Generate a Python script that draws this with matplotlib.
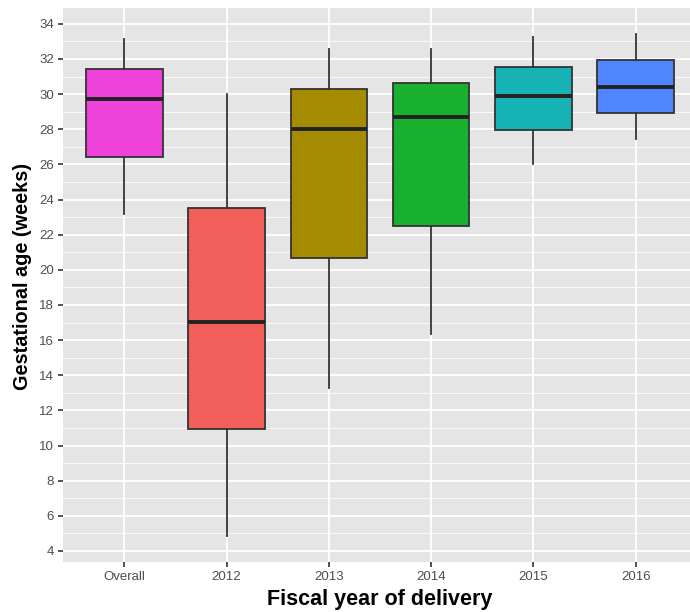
import matplotlib
matplotlib.use("Agg")
import matplotlib.pyplot as plt
import numpy as np

# summary statistics of gestational age (weeks) per fiscal year
groups = ['Overall', '2012', '2013', '2014', '2015', '2016']
whisker_low = [23.16, 4.87, 13.30, 16.33, 26.03, 27.47]
q1 = [26.44, 10.94, 20.66, 22.48, 27.94, 28.91]
median = [29.73, 17.05, 28.02, 28.72, 29.88, 30.43]
q3 = [31.42, 23.54, 30.28, 30.65, 31.56, 31.93]
whisker_high = [33.12, 30.00, 32.55, 32.55, 33.27, 33.42]
fill_colors = ['#EE42DB', '#F25E5A', '#A58B00', '#1AB02F', '#17B2B6', '#4F86FF']

plt.rcParams['font.family'] = ['Liberation Sans', 'DejaVu Sans']

fig = plt.figure(figsize=(6.9, 6.12), dpi=100)
ax = fig.add_axes([63 / 690, 1 - 561.7 / 612, (697 - 63) / 690, (561.7 - 8) / 612])

stats = []
for i, g in enumerate(groups):
    stats.append({'label': g, 'whislo': whisker_low[i], 'q1': q1[i], 'med': median[i],
                  'q3': q3[i], 'whishi': whisker_high[i], 'fliers': []})

pos = np.arange(1, len(groups) + 1)
bp = ax.bxp(stats, positions=pos, widths=0.75, patch_artist=True, showcaps=False,
            showfliers=False, zorder=3,
            boxprops=dict(edgecolor='#333333', linewidth=1.3),
            medianprops=dict(color='#222222', linewidth=2.8),
            whiskerprops=dict(color='#333333', linewidth=1.3))
for patch, c in zip(bp['boxes'], fill_colors):
    patch.set_facecolor(c)

ax.set_facecolor('#E5E5E5')
ax.set_xlim(0.4, 6.6)
ax.set_ylim(3.39, 34.9)
ax.set_yticks(np.arange(4, 35, 2))
ax.set_yticks(np.arange(5, 35, 2), minor=True)
ax.set_xticks(pos)
ax.set_xticklabels(groups)

ax.grid(which='major', color='white', linewidth=1.3, zorder=0)
ax.grid(which='minor', axis='y', color='white', linewidth=0.6, zorder=0)
ax.set_axisbelow(True)
for s in ax.spines.values():
    s.set_visible(False)

ax.tick_params(which='major', length=3.5, width=1.2, color='#333333',
               labelcolor='#4D4D4D', labelsize=9.5, pad=3)
ax.tick_params(which='minor', length=0)

ax.set_xlabel('Fiscal year of delivery', fontsize=15.5, fontweight='bold', va='baseline')
ax.xaxis.set_label_coords(0.5, -0.078)
ax.set_ylabel('Gestational age (weeks)', fontsize=14.3, fontweight='bold')
ax.yaxis.set_label_coords(-0.049, 0.516)

fig.savefig('out.png', dpi=100)
